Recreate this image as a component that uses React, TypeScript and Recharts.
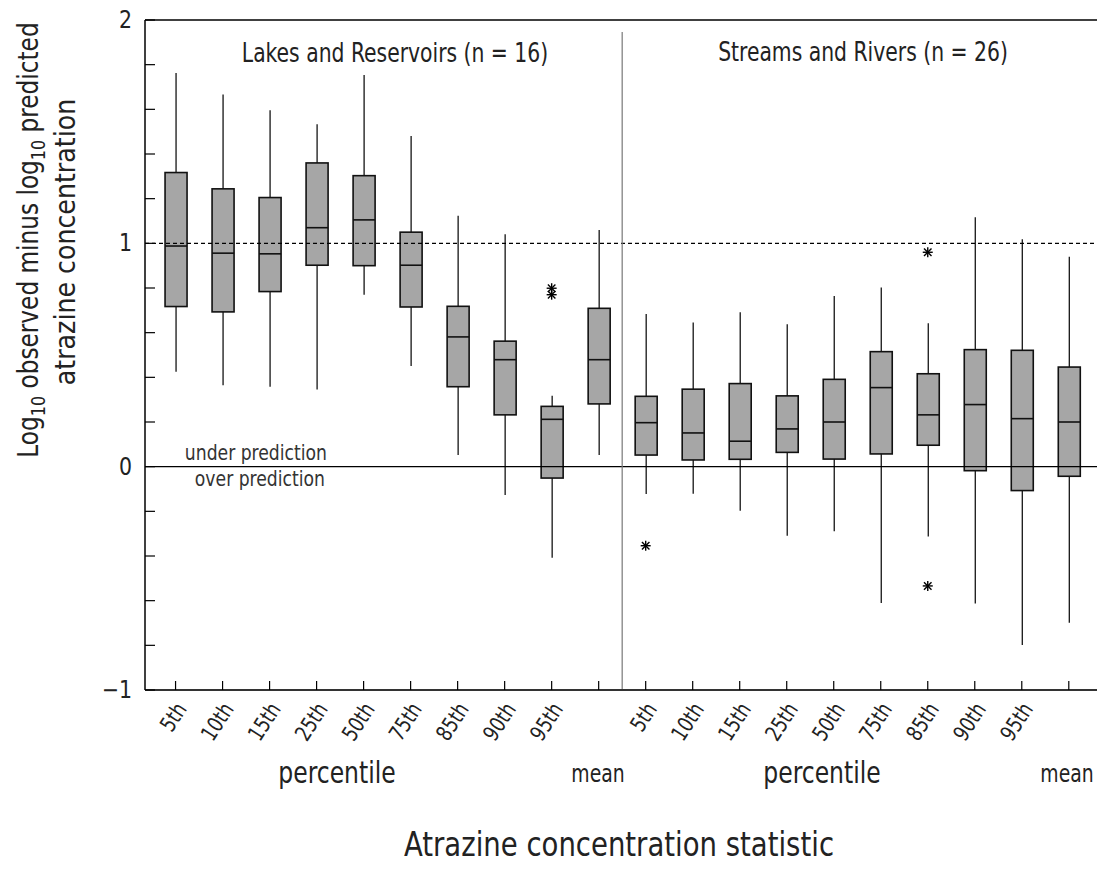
import React from 'react';
import {
    ComposedChart,
    Bar,
    Scatter,
    XAxis,
    YAxis,
    ReferenceLine,
    Customized,
} from 'recharts';

const FONT = "'DejaVu Sans Condensed', 'DejaVu Sans', sans-serif";

// statistic categories, one box per category in each panel
const statistics = ['5th', '10th', '15th', '25th', '50th', '75th', '85th', '90th', '95th', 'mean'];
const positions = [1, 2, 3, 4, 5, 6, 7, 8, 9, 10, 11, 12, 13, 14, 15, 16, 17, 18, 19, 20];

// Lakes and Reservoirs (n = 16)
const lakesLow = [0.425, 0.364, 0.358, 0.345, 0.77, 0.451, 0.052, -0.127, -0.408, 0.052];
const lakesQ1 = [0.717, 0.693, 0.784, 0.902, 0.9, 0.715, 0.358, 0.232, -0.051, 0.281];
const lakesMedian = [0.988, 0.956, 0.953, 1.07, 1.105, 0.902, 0.581, 0.479, 0.212, 0.479];
const lakesQ3 = [1.317, 1.244, 1.205, 1.36, 1.303, 1.05, 0.718, 0.562, 0.27, 0.709];
const lakesHigh = [1.763, 1.666, 1.596, 1.533, 1.754, 1.481, 1.123, 1.041, 0.317, 1.06];

// Streams and Rivers (n = 26)
const streamsLow = [-0.122, -0.121, -0.197, -0.309, -0.289, -0.61, -0.313, -0.613, -0.798, -0.699];
const streamsQ1 = [0.052, 0.03, 0.033, 0.064, 0.034, 0.057, 0.096, -0.018, -0.107, -0.043];
const streamsMedian = [0.197, 0.151, 0.114, 0.169, 0.2, 0.354, 0.232, 0.278, 0.215, 0.2];
const streamsQ3 = [0.315, 0.347, 0.372, 0.317, 0.391, 0.515, 0.416, 0.524, 0.521, 0.446];
const streamsHigh = [0.684, 0.645, 0.691, 0.638, 0.764, 0.802, 0.642, 1.117, 1.018, 0.94];

// outliers (position, value)
const outlierPos = [9, 9, 11, 17, 17];
const outlierValue = [0.799, 0.77, -0.354, 0.96, -0.534];

const yTicks = [-1, -0.8, -0.6, -0.4, -0.2, 0, 0.2, 0.4, 0.6, 0.8, 1, 1.2, 1.4, 1.6, 1.8, 2];

const allLow = [...lakesLow, ...streamsLow];
const allQ1 = [...lakesQ1, ...streamsQ1];
const allMedian = [...lakesMedian, ...streamsMedian];
const allQ3 = [...lakesQ3, ...streamsQ3];
const allHigh = [...lakesHigh, ...streamsHigh];

const rows = positions.map((pos, i) => ({
    pos,
    stat: statistics[i % statistics.length],
    low: allLow[i],
    q1: allQ1[i],
    median: allMedian[i],
    q3: allQ3[i],
    high: allHigh[i],
}));

const outliers = outlierPos.map((pos, i) => ({ pos, value: outlierValue[i] }));

// condensed-looking text: squeeze glyphs along the text direction
const Txt = ({ x, y, size, rotate = 0, sx = 0.87, anchor = 'middle', fill = '#222', children }: any) => (
    <text
        transform={`translate(${x} ${y}) rotate(${rotate}) scale(${sx} 1)`}
        textAnchor={anchor}
        fontFamily={FONT}
        fontSize={size}
        fill={fill}
    >
        {children}
    </text>
);

const BoxShape = (props: any) => {
    const { x, y, width, height, payload } = props;
    if (payload == null || height == null) return null;
    const top = Math.min(y, y + height);
    const bottom = Math.max(y, y + height);
    const k = (bottom - top) / (payload.high - payload.low);
    const py = (v: number) => bottom - (v - payload.low) * k;
    const cx = x + width / 2;
    return (
        <g>
            <line x1={cx} x2={cx} y1={top} y2={bottom} stroke='#000' strokeWidth={1.2} />
            <rect
                x={x}
                y={py(payload.q3)}
                width={width}
                height={py(payload.q1) - py(payload.q3)}
                fill='#a6a6a6'
                stroke='#111'
                strokeWidth={1.6}
            />
            <line
                x1={x}
                x2={x + width}
                y1={py(payload.median)}
                y2={py(payload.median)}
                stroke='#111'
                strokeWidth={1.6}
            />
        </g>
    );
};

const Star = (props: any) => {
    const { cx, cy } = props;
    const r = 5;
    const d = r * 0.75;
    return (
        <g stroke='#000' strokeWidth={1.4}>
            <line x1={cx - r} x2={cx + r} y1={cy} y2={cy} />
            <line x1={cx} x2={cx} y1={cy - r} y2={cy + r} />
            <line x1={cx - d} x2={cx + d} y1={cy - d} y2={cy + d} />
            <line x1={cx - d} x2={cx + d} y1={cy + d} y2={cy - d} />
        </g>
    );
};

const XTick = (props: any) => {
    const { x, y, payload } = props;
    const stat = statistics[(payload.value - 1) % statistics.length];
    const label = stat === 'mean' ? '' : stat;
    return (
        <g>
            <line x1={x} x2={x} y1={y} y2={y - 9} stroke='#000' strokeWidth={1.2} />
            {label && (
                <Txt x={x + 12} y={y + 19} rotate={-57} sx={0.88} size={22} anchor='end'>
                    {label}
                </Txt>
            )}
        </g>
    );
};

const fmtY = (v: number) => (v < 0 ? `\u2212${Math.abs(v)}` : `${v}`);

const YTickLeft = (props: any) => {
    const { x, y, payload } = props;
    const v = payload.value;
    return (
        <g>
            <line x1={x} x2={x + 10} y1={y} y2={y} stroke='#000' strokeWidth={1.2} />
            {Number.isInteger(v) && (
                <Txt x={x - 13} y={y + 8} size={24} sx={0.95} anchor='end'>
                    {fmtY(v)}
                </Txt>
            )}
        </g>
    );
};

const YTickRight = (props: any) => {
    const { x, y } = props;
    return <line x1={x - 9} x2={x} y1={y} y2={y} stroke='#000' strokeWidth={1.2} />;
};

const Annotations = () => (
    <g>
        <Txt x={395} y={62} size={26}>
            Lakes and Reservoirs (n = 16)
        </Txt>
        <Txt x={863} y={61} size={26}>
            Streams and Rivers (n = 26)
        </Txt>
        <Txt x={327} y={460} size={22} anchor='end' fill='#333'>
            under prediction
        </Txt>
        <Txt x={325} y={486} size={22} anchor='end' fill='#333'>
            over prediction
        </Txt>
        <Txt x={337} y={783} size={30}>
            percentile
        </Txt>
        <Txt x={822} y={783} size={30}>
            percentile
        </Txt>
        <Txt x={598} y={782} size={24}>
            mean
        </Txt>
        <Txt x={1067} y={782} size={24}>
            mean
        </Txt>
        <Txt x={619} y={856} size={34} sx={0.9}>
            Atrazine concentration statistic
        </Txt>
        <Txt x={38} y={240} rotate={-90} sx={0.89} size={29}>
            Log
            <tspan dy={7} fontSize={20}>10</tspan>
            <tspan dy={-7}> observed minus log</tspan>
            <tspan dy={7} fontSize={20}>10</tspan>
            <tspan dy={-7}> predicted</tspan>
        </Txt>
        <Txt x={75} y={242} rotate={-90} sx={0.97} size={29}>
            atrazine concentration
        </Txt>
    </g>
);

const App: React.FC = () => {
    return (
        <div style={{ position: 'absolute', top: 0, left: 0, width: 1097, height: 869, background: '#fff' }}>
            <ComposedChart
                width={1097}
                height={869}
                data={rows}
                margin={{ top: 20, right: 0, bottom: 79, left: 0 }}
            >
                <XAxis
                    dataKey='pos'
                    type='number'
                    domain={[0.35, 20.6]}
                    ticks={positions}
                    interval={0}
                    allowDataOverflow
                    height={100}
                    tickSize={0}
                    tickMargin={0}
                    tickLine={false}
                    tick={<XTick />}
                    axisLine={{ stroke: '#333', strokeWidth: 2 }}
                />
                <YAxis
                    yAxisId='l'
                    type='number'
                    domain={[-1, 2]}
                    ticks={yTicks}
                    interval={0}
                    allowDataOverflow
                    width={145}
                    tickSize={0}
                    tickMargin={0}
                    tickLine={false}
                    tick={<YTickLeft />}
                    axisLine={{ stroke: '#000', strokeWidth: 1.5 }}
                />
                <YAxis
                    yAxisId='r'
                    orientation='right'
                    type='number'
                    domain={[-1, 2]}
                    ticks={yTicks}
                    interval={0}
                    allowDataOverflow
                    width={0}
                    tickSize={0}
                    tickMargin={0}
                    tickLine={false}
                    tick={<YTickRight />}
                    axisLine={false}
                />
                <ReferenceLine yAxisId='l' y={2} stroke='#000' strokeWidth={1.5} />
                <ReferenceLine yAxisId='l' y={1} stroke='#000' strokeWidth={1.2} strokeDasharray='4 3' />
                <ReferenceLine yAxisId='l' y={0} stroke='#000' strokeWidth={1.2} />
                <ReferenceLine
                    yAxisId='l'
                    x={10.5}
                    stroke='#777'
                    strokeWidth={1.2}
                    shape={(p: any) => (
                        <line x1={p.x1} x2={p.x2} y1={p.y1} y2={p.y2 + 12} stroke='#777' strokeWidth={1.2} />
                    )}
                />
                <Bar
                    yAxisId='l'
                    dataKey={(d: any) => [d.low, d.high]}
                    barSize={22}
                    shape={<BoxShape />}
                    isAnimationActive={false}
                />
                <Scatter
                    yAxisId='l'
                    data={outliers}
                    dataKey='value'
                    shape={<Star />}
                    isAnimationActive={false}
                />
                <Customized component={Annotations} />
            </ComposedChart>
        </div>
    );
};

export default App;
